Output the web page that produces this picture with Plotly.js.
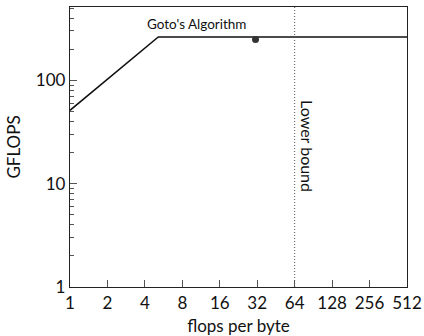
<!DOCTYPE html>
<html>
<head>
<meta charset="utf-8">
<script src="https://cdn.plot.ly/plotly-3.0.1.min.js"></script>
<style>html,body{margin:0;padding:0;background:#fff;}#chart{width:424px;height:336px;}</style>
</head>
<body>
<div id="chart"></div>
<script>
// Roofline data
const rooflineX = [1, 5.125, 512];
const rooflineY = [51.2, 262.4, 262.4];
const gotoX = [31];
const gotoY = [248];
const gotoLabel = "Goto's Algorithm";
const lowerBoundX = [64, 64];
const lowerBoundY = [1, 512];
const lowerBoundLabel = "Lower bound";
const lowerBoundLabelY = 23;
const xTickVals = [1, 2, 4, 8, 16, 32, 64, 128, 256, 512];
const xTickText = ["1", "2", "4", "8", "16", "32", "64", "128", "256", "512"];
const yTickVals = [1, 10, 100];
const yTickText = ["1", "10", "100"];

const FONT = "Lato, sans-serif";

const traces = [
  {x: rooflineX, y: rooflineY, mode: 'lines', line: {color: '#111', width: 1.5}, hoverinfo: 'skip'},
  {x: lowerBoundX, y: lowerBoundY, mode: 'lines', line: {color: '#555', width: 1, dash: '1px,2px'}, hoverinfo: 'skip'},
  {x: gotoX, y: gotoY, mode: 'markers', marker: {color: '#333', size: 7}, hoverinfo: 'skip'}
];

const layout = {
  width: 424, height: 336,
  margin: {l: 70, r: 17, t: 7, b: 49},
  paper_bgcolor: '#fff', plot_bgcolor: '#fff',
  showlegend: false,
  font: {family: FONT, color: '#111', size: 17},
  xaxis: {
    type: 'log', range: [0, Math.log10(512)],
    tickvals: xTickVals, ticktext: xTickText,
    ticks: 'inside', ticklen: 7, tickcolor: '#555', tickwidth: 1.2,
    showline: true, linecolor: '#222', linewidth: 1.3, mirror: true,
    showgrid: false, zeroline: false,
    tickfont: {size: 17, family: FONT},
    title: {text: 'flops per byte', font: {size: 17, family: FONT}, standoff: 10}
  },
  yaxis: {
    type: 'log', range: [0, Math.log10(512)],
    tickvals: yTickVals, ticktext: yTickText,
    ticks: 'inside', ticklen: 7, tickcolor: '#555', tickwidth: 1.2,
    minor: {ticks: 'inside', ticklen: 4, tickcolor: '#555', tickwidth: 1.2, dtick: 'D1', showgrid: false},
    showline: true, linecolor: '#222', linewidth: 1.3, mirror: true,
    showgrid: false, zeroline: false,
    tickfont: {size: 17, family: FONT},
    title: {text: 'GFLOPS', font: {size: 17, family: FONT}, standoff: 10}
  },
  annotations: [
    {x: Math.log10(gotoX[0]), y: Math.log10(gotoY[0]), xref: 'x', yref: 'y', text: gotoLabel,
     showarrow: false, xanchor: 'right', yanchor: 'bottom', xshift: -8, yshift: 6,
     font: {size: 13.5, family: FONT, color: '#111'}},
    {x: Math.log10(lowerBoundX[0]), y: Math.log10(lowerBoundLabelY), xref: 'x', yref: 'y', text: lowerBoundLabel,
     showarrow: false, textangle: 90, xanchor: 'left', yanchor: 'middle', xshift: 2,
     font: {size: 16, family: FONT, color: '#111'}}
  ]
};

Plotly.newPlot('chart', traces, layout, {displayModeBar: false});
</script>
</body>
</html>
